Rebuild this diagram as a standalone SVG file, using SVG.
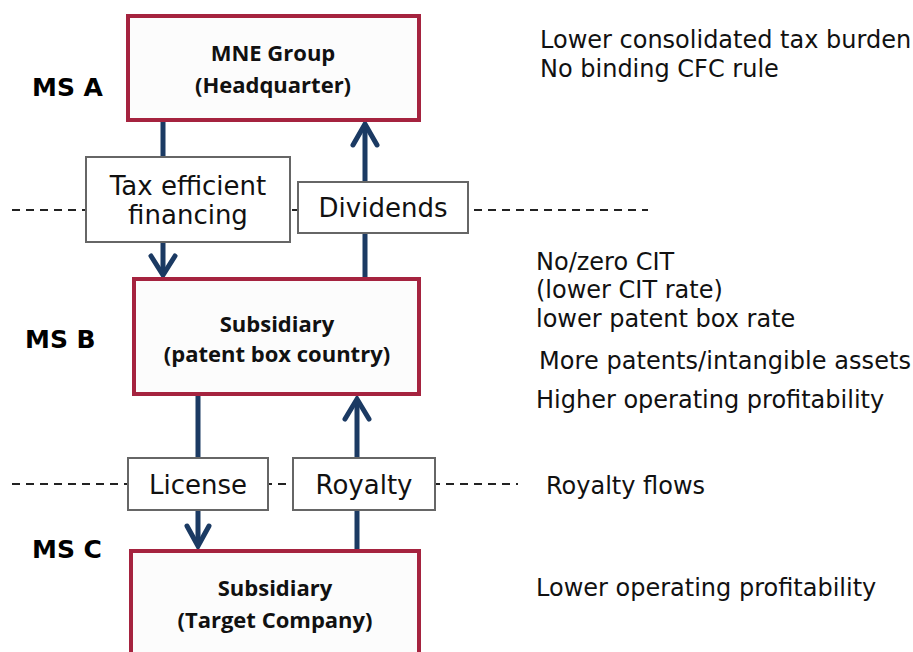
<svg xmlns="http://www.w3.org/2000/svg" width="913" height="652" viewBox="0 0 913 652">
<style>
.node{fill:#fcfcfc;stroke:#a5233f;stroke-width:4}
.nt{font-family:"Open Sans","Liberation Sans",sans-serif;font-weight:700;font-size:22px;fill:#111;text-anchor:middle}
.ms{font-family:"DejaVu Sans",sans-serif;font-weight:700;font-size:25px;fill:#000}
.side{font-family:"DejaVu Sans",sans-serif;font-size:24px;fill:#111}
.lbl{fill:#fff;stroke:#666;stroke-width:2}
.lt{font-family:"DejaVu Sans",sans-serif;font-size:26px;fill:#111;text-anchor:middle}
.dash{stroke:#222;stroke-width:1.8;stroke-dasharray:8 6;fill:none}
.flow{stroke:#1b3a63;stroke-width:5;fill:none}
.head{stroke:#1b3a63;stroke-width:5;fill:none;stroke-linecap:round;stroke-linejoin:miter}
</style>
<rect width="913" height="652" fill="#fff"/>
<g id="borders">
<line class="dash" x1="12" y1="210" x2="648" y2="210"/>
<line class="dash" x1="12" y1="484" x2="518" y2="484"/>
</g>
<g id="connectors">
<line class="flow" x1="163" y1="121" x2="163" y2="275"/>
<path class="head" d="M151 256 L163 275 L175 256"/>
<line class="flow" x1="365" y1="278" x2="365" y2="124"/>
<path class="head" d="M353 145 L365 124 L377 145"/>
<line class="flow" x1="198" y1="395" x2="198" y2="546"/>
<path class="head" d="M187 526 L198 546 L209 526"/>
<line class="flow" x1="357" y1="550" x2="357" y2="399"/>
<path class="head" d="M345 419 L357 399 L369 419"/>
</g>
<g id="labels">
<g id="lbl-financing"><rect class="lbl" x="86" y="157" width="204" height="85"/><text class="lt" x="188" y="195">Tax efficient</text><text class="lt" x="188" y="224">financing</text></g>
<g id="lbl-dividends"><rect class="lbl" x="298" y="182" width="170" height="51"/><text class="lt" x="383" y="217">Dividends</text></g>
<g id="lbl-license"><rect class="lbl" x="128" y="458" width="140" height="52"/><text class="lt" x="198" y="494">License</text></g>
<g id="lbl-royalty"><rect class="lbl" x="293" y="458" width="142" height="52"/><text class="lt" x="364" y="494">Royalty</text></g>
</g>
<g id="node-hq"><rect class="node" x="128" y="16" width="291" height="104"/><text class="nt" x="273" y="61">MNE Group</text><text class="nt" x="273" y="93">(Headquarter)</text></g>
<g id="node-b"><rect class="node" x="134" y="279" width="285" height="115"/><text class="nt" x="277" y="332">Subsidiary</text><text class="nt" x="277" y="362">(patent box country)</text></g>
<g id="node-c"><rect class="node" x="131" y="551" width="288" height="120"/><text class="nt" x="275" y="596">Subsidiary</text><text class="nt" x="275" y="628">(Target Company)</text></g>
<g id="ms-labels">
<text class="ms" x="32" y="96">MS A</text>
<text class="ms" x="25" y="348">MS B</text>
<text class="ms" x="32" y="558">MS C</text>
</g>
<g id="side-notes">
<text class="side" x="540" y="48">Lower consolidated tax burden</text>
<text class="side" x="540" y="77">No binding CFC rule</text>
<text class="side" x="536" y="270">No/zero CIT</text>
<text class="side" x="536" y="298">(lower CIT rate)</text>
<text class="side" x="536" y="327">lower patent box rate</text>
<text class="side" x="539" y="369" textLength="372">More patents/intangible assets</text>
<text class="side" x="536" y="408">Higher operating profitability</text>
<text class="side" x="546" y="494">Royalty flows</text>
<text class="side" x="536" y="596">Lower operating profitability</text>
</g>
</svg>
